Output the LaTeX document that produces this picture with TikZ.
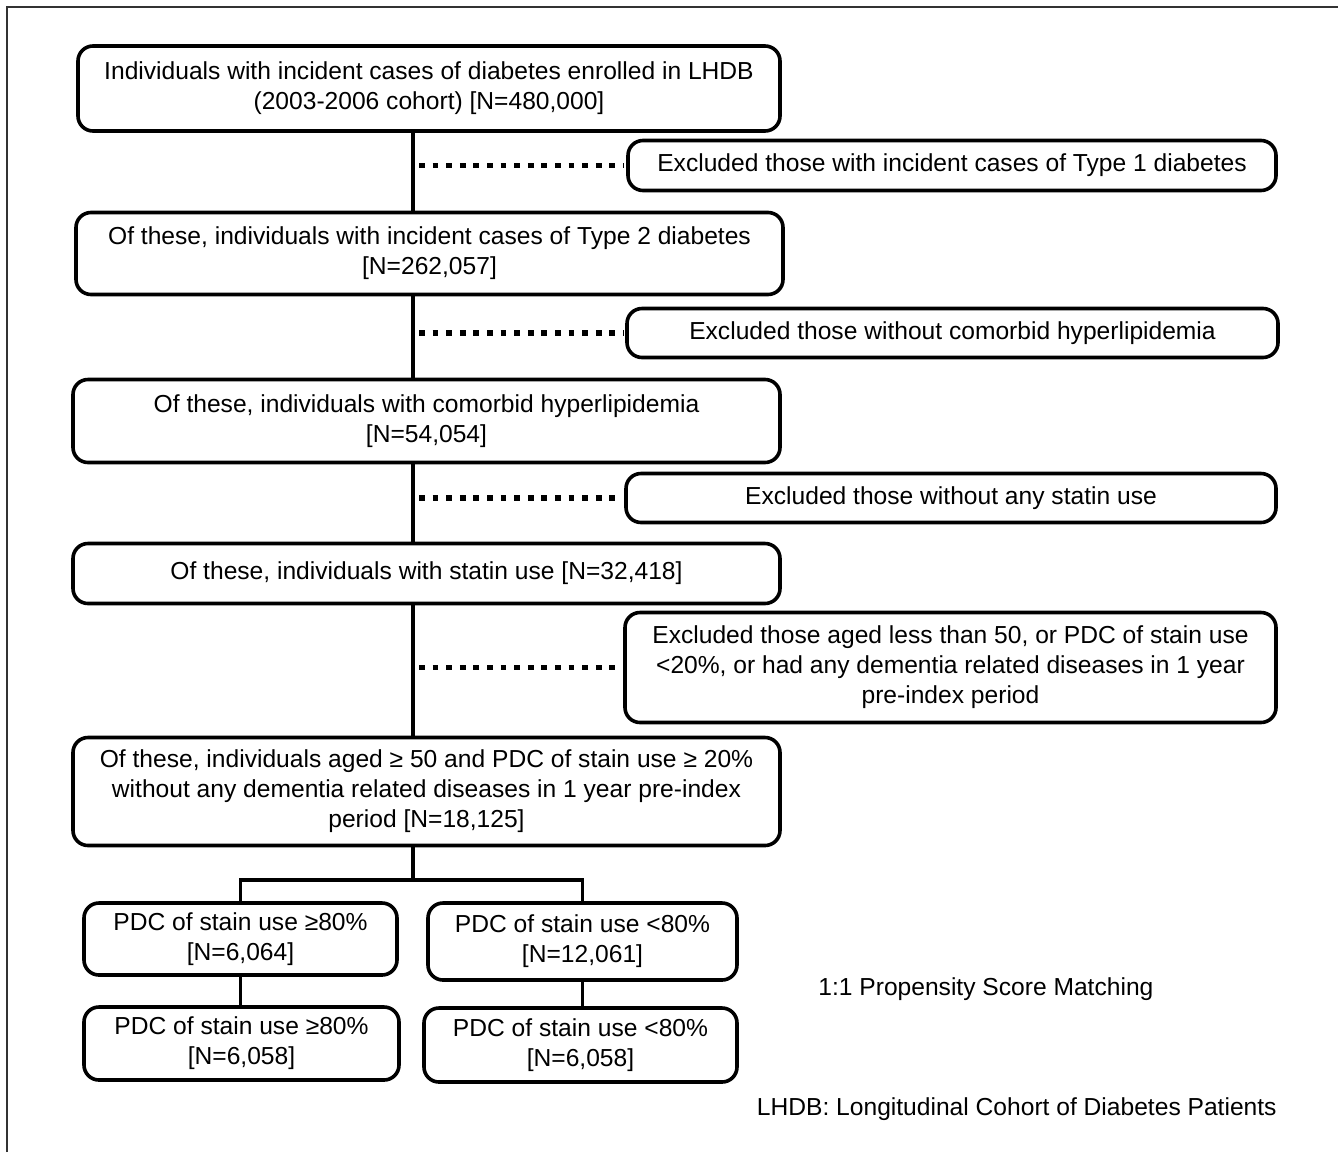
\documentclass[tikz,border=0pt]{standalone}
\usepackage{fontspec}
\setmainfont{Liberation Sans}
\begin{document}
\begin{tikzpicture}[x=0.5pt,y=-0.5pt,
  fbox/.style={draw=black, line width=1.8pt, rounded corners=7.5pt, align=center,
    inner sep=0pt, font=\fontsize{12.3}{15}\selectfont},
  trunkline/.style={draw=black, line width=1.9pt},
  dotline/.style={draw=black, line width=2.8pt, dash pattern=on 2.9pt off 3.9pt},
  plaintext/.style={inner sep=0pt, font=\fontsize{12.3}{15}\selectfont}]
\useasboundingbox (0,0) rectangle (1338,1152);
\draw[line width=1pt, black!80] (7,1152) -- (7,7) -- (1338,7);

\coordinate (trunk) at (413,0);
\coordinate (split) at (413,880);

\node[fbox, minimum width=351pt, minimum height=42.5pt] (b1) at (429,88.5)
  {Individuals with incident cases of diabetes enrolled in LHDB\\(2003-2006 cohort) [N=480,000]};
\node[fbox, minimum width=324pt, minimum height=25pt] (e1) at (952,165.5)
  {Excluded those with incident cases of Type 1 diabetes};
\node[fbox, minimum width=353.5pt, minimum height=41pt] (b2) at (429.5,253.5)
  {Of these, individuals with incident cases of Type 2 diabetes\\{}[N=262,057]};
\node[fbox, minimum width=325.5pt, minimum height=24.5pt] (e2) at (952.5,333)
  {Excluded those without comorbid hyperlipidemia};
\node[fbox, minimum width=353.5pt, minimum height=41.5pt] (b3) at (426.5,421)
  {Of these, individuals with comorbid hyperlipidemia\\{}[N=54,054]};
\node[fbox, minimum width=325pt, minimum height=24.5pt] (e3) at (951,498)
  {Excluded those without any statin use};
\node[fbox, minimum width=353.5pt, minimum height=30pt] (b4) at (426.5,573.5)
  {Of these, individuals with statin use [N=32,418]};
\node[fbox, minimum width=325.5pt, minimum height=55pt] (e4) at (950.5,667.5)
  {Excluded those aged less than 50, or PDC of stain use\\<20\%, or had any dementia related diseases in 1 year\\pre-index period};
\node[fbox, minimum width=353.5pt, minimum height=54pt] (b5) at (426.5,791.5)
  {Of these, individuals aged ≥ 50 and PDC of stain use ≥ 20\%\\without any dementia related diseases in 1 year pre-index\\period [N=18,125]};
\node[fbox, minimum width=156.5pt, minimum height=36pt] (b6) at (240.5,939)
  {PDC of stain use ≥80\%\\{}[N=6,064]};
\node[fbox, minimum width=154.5pt, minimum height=38.5pt] (b7) at (582.5,941.5)
  {PDC of stain use <80\%\\{}[N=12,061]};
\node[fbox, minimum width=157.5pt, minimum height=36.5pt] (b8) at (241.5,1043.5)
  {PDC of stain use ≥80\%\\{}[N=6,058]};
\node[fbox, minimum width=156.5pt, minimum height=37pt] (b9) at (580.5,1045)
  {PDC of stain use <80\%\\{}[N=6,058]};

\node[plaintext, anchor=west] (psm) at (818,989) {1:1 Propensity Score Matching};
\node[plaintext, anchor=east] (note) at (1277,1109) {LHDB: Longitudinal Cohort of Diabetes Patients};

\draw[trunkline] (b1.south -| trunk) -- (b2.north -| trunk);
\draw[trunkline] (b2.south -| trunk) -- (b3.north -| trunk);
\draw[trunkline] (b3.south -| trunk) -- (b4.north -| trunk);
\draw[trunkline] (b4.south -| trunk) -- (b5.north -| trunk);
\draw[trunkline] (b5.south -| trunk) -- (split);
\draw[trunkline] (b6.north) |- (split) -| (b7.north);
\draw[trunkline] (b6.south) -- (b6.south |- b8.north);
\draw[trunkline] (b7.south) -- (b7.south |- b9.north);

\draw[dotline] ([xshift=3pt]trunk |- e1.west) -- ([xshift=-1pt]e1.west);
\draw[dotline] ([xshift=3pt]trunk |- e2.west) -- ([xshift=-1pt]e2.west);
\draw[dotline] ([xshift=3pt]trunk |- e3.west) -- ([xshift=-1pt]e3.west);
\draw[dotline] ([xshift=3pt]trunk |- e4.west) -- ([xshift=-1pt]e4.west);
\end{tikzpicture}
\end{document}
